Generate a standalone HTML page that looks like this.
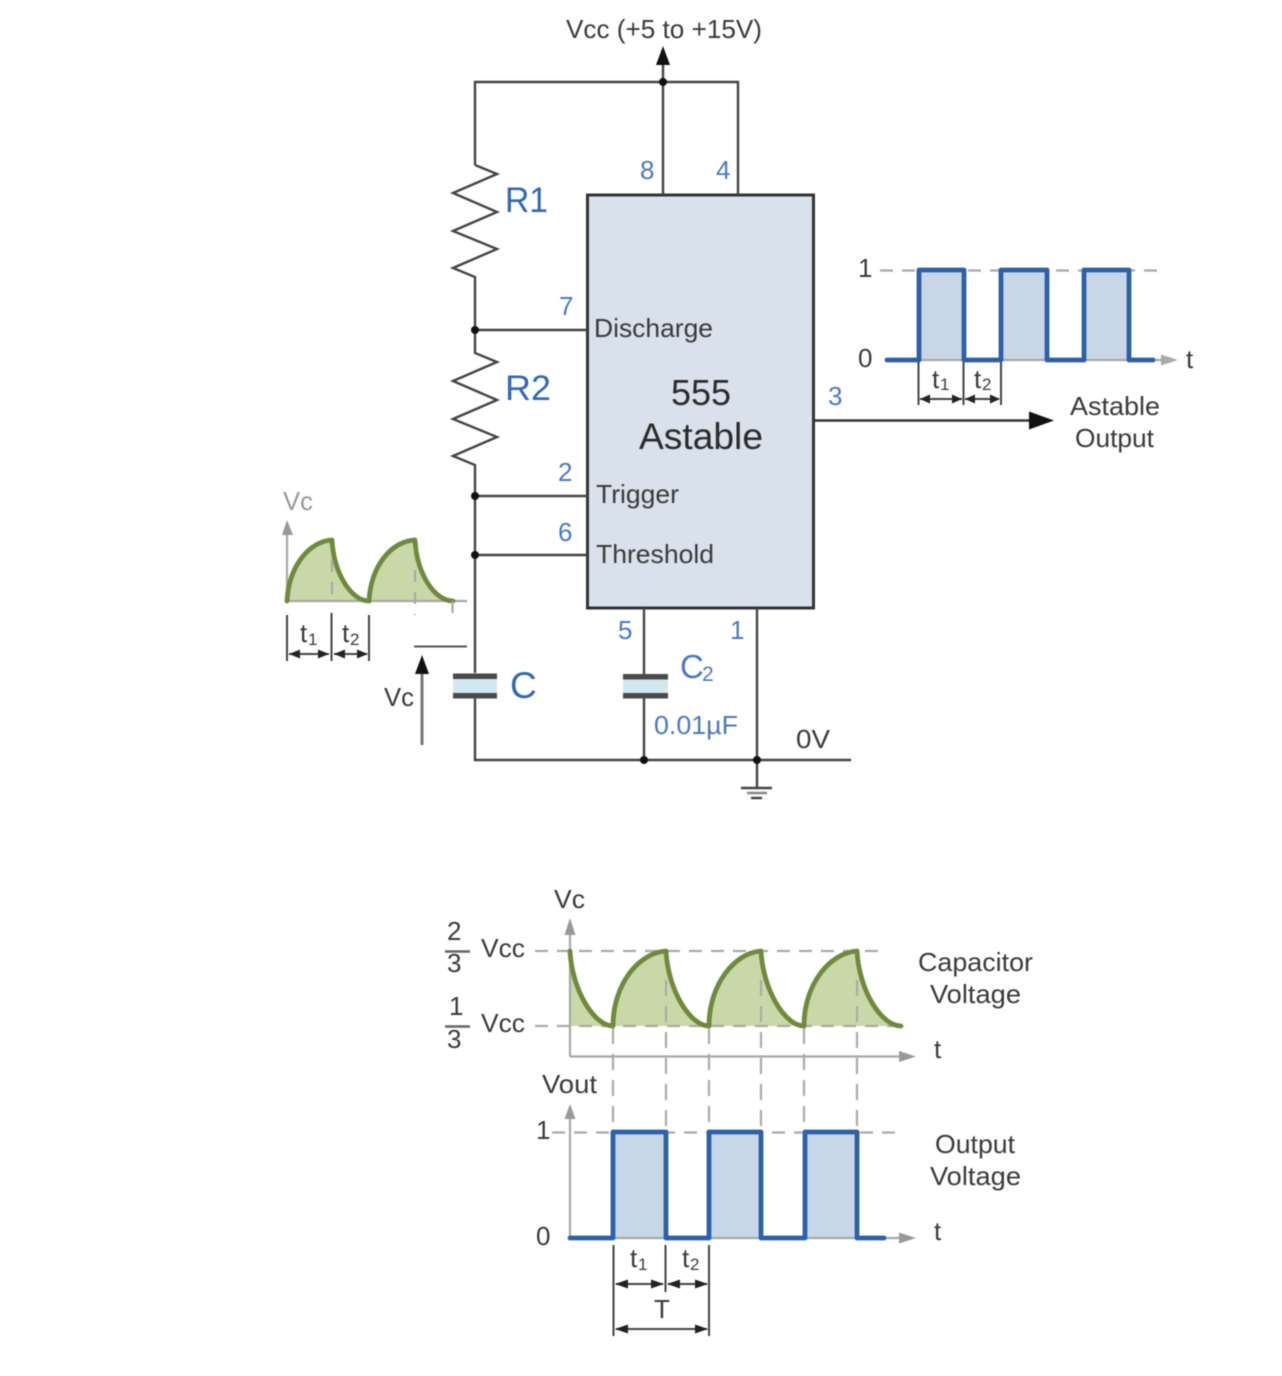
<!DOCTYPE html>
<html><head><meta charset="utf-8"><title>555 Astable</title>
<style>
html,body{margin:0;padding:0;background:#fff;width:1282px;height:1376px;overflow:hidden}
svg{display:block;filter:blur(.5px)}
text{font-family:"Liberation Sans",sans-serif;font-size:26px;fill:#3a3a3a}
.b{fill:#4a78c4}
.B{fill:#2f69b5}
.s{font-size:17px}
.w{fill:none;stroke:#444;stroke-width:2.4}
.g{fill:none;stroke:#a8a8a8;stroke-width:2.2}
.d{fill:none;stroke:#aaa;stroke-width:2.2;stroke-dasharray:13 9}
.dv{fill:none;stroke:#aaa;stroke-width:2.2;stroke-dasharray:16 10}
.wave{fill:none;stroke:#2e60a8;stroke-width:4.8;stroke-linejoin:round;stroke-linecap:round}
.cv{fill:none;stroke:#6f8a3c;stroke-width:4.8;stroke-linejoin:round;stroke-linecap:round}
.dim{fill:none;stroke:#444;stroke-width:2}
</style></head><body>
<svg width="1282" height="1376" viewBox="0 0 1282 1376" xmlns="http://www.w3.org/2000/svg">
<rect width="1282" height="1376" fill="#fff"/>

<!-- IC -->
<rect x="587.5" y="195" width="226" height="413" fill="#d9e1ec" stroke="#333" stroke-width="3"/>

<!-- wires -->
<path class="w" d="M475 165V82H738V195M663 195V60"/>
<path d="M663 46L670 65H656Z" fill="#111"/>
<path class="w" d="M475 165L497 174L453 193L497 212L453 231L497 249L453 268L475 277V353L497 362L453 381L497 400L453 419L497 437L453 456L475 465V673M475 698V760H851"/>
<path class="w" d="M475 330H587M475 496H587M475 555H587"/>
<path class="w" d="M644 608V674M644 698V760M757 608V788"/>
<path d="M813 420.500H1032" stroke="#333" stroke-width="2.400" fill="none"/>
<path d="M1054 420.500L1029 411.500V429.500Z" fill="#111"/>
<g fill="#111">
<circle cx="663" cy="82" r="4"/><circle cx="475" cy="330" r="4"/><circle cx="475" cy="496" r="4"/><circle cx="475" cy="555" r="4"/><circle cx="644" cy="760" r="4"/><circle cx="757" cy="760" r="4"/>
</g>

<!-- capacitors -->
<rect x="453" y="679" width="44" height="14" fill="#d2e8f0"/>
<rect x="453" y="673.500" width="44" height="5.500" fill="#4a4a4a"/>
<rect x="453" y="693" width="44" height="5.500" fill="#4a4a4a"/>
<rect x="623" y="679" width="45" height="14" fill="#d2e8f0"/>
<rect x="623" y="674" width="45" height="5.500" fill="#4a4a4a"/>
<rect x="623" y="693" width="45" height="5.500" fill="#4a4a4a"/>

<!-- ground -->
<path d="M741 788H772" stroke="#444" stroke-width="2.400"/>
<path d="M747 793H767" stroke="#888" stroke-width="2.400"/>
<path d="M751 798H762" stroke="#444" stroke-width="2.400"/>

<!-- main labels -->
<text x="566" y="38" textLength="196" lengthAdjust="spacingAndGlyphs">Vcc (+5 to +15V)</text>
<text class="B" x="505" y="212" style="font-size:35px" textLength="43" lengthAdjust="spacingAndGlyphs">R1</text>
<text class="B" x="505" y="400" style="font-size:35px" textLength="46" lengthAdjust="spacingAndGlyphs">R2</text>
<text class="B" x="510" y="698" style="font-size:37px">C</text>
<text class="b" x="640" y="179">8</text>
<text class="b" x="716" y="179">4</text>
<text class="b" x="559" y="315">7</text>
<text class="b" x="558" y="481">2</text>
<text class="b" x="558" y="541">6</text>
<text class="b" x="618" y="639">5</text>
<text class="b" x="730" y="639">1</text>
<text class="b" x="828" y="405">3</text>
<text x="594" y="337" textLength="119" lengthAdjust="spacingAndGlyphs">Discharge</text>
<text x="596" y="503" textLength="83" lengthAdjust="spacingAndGlyphs">Trigger</text>
<text x="596" y="563" textLength="118" lengthAdjust="spacingAndGlyphs">Threshold</text>
<text x="671" y="405" style="font-size:36px;fill:#2b2b2b" textLength="60" lengthAdjust="spacingAndGlyphs">555</text>
<text x="639" y="449" style="font-size:37px;fill:#2b2b2b" textLength="124" lengthAdjust="spacingAndGlyphs">Astable</text>
<text class="b" x="680" y="678" style="font-size:33px">C</text>
<text class="b s" x="702" y="681" style="font-size:21px">2</text>
<text class="b" x="654" y="734" textLength="84" lengthAdjust="spacingAndGlyphs">0.01µF</text>
<text x="796" y="748" textLength="34" lengthAdjust="spacingAndGlyphs">0V</text>

<!-- right waveform -->
<path class="d" d="M880 270.500H1160"/>
<path d="M919 360V270H964V360ZM1001 360V270H1047V360ZM1084 360V270H1129V360Z" fill="#c9d6e6"/>
<path class="g" d="M887 360H1165"/>
<path d="M1178 360L1161 354.500V365.500Z" fill="#aaa"/>
<path class="wave" d="M887 360H919V270H964V360H1001V270H1047V360H1084V270H1129V360H1153"/>
<path class="dim" d="M918.500 362V405M963.500 362V405M1001 362V405"/>
<path class="dim" d="M920 399H962M965 399H999"/>
<g fill="#222">
<path d="M920 399L930 394.500V403.500Z"/><path d="M962 399L952 394.500V403.500Z"/>
<path d="M965 399L975 394.500V403.500Z"/><path d="M1000 399L990 394.500V403.500Z"/>
</g>
<text x="858" y="277">1</text>
<text x="858" y="367">0</text>
<text x="1186" y="368">t</text>
<text x="932" y="388">t</text><text class="s" x="940" y="390">1</text>
<text x="974" y="388">t</text><text class="s" x="982" y="390">2</text>
<text x="1070" y="415" textLength="90" lengthAdjust="spacingAndGlyphs">Astable</text>
<text x="1075" y="447" textLength="79" lengthAdjust="spacingAndGlyphs">Output</text>

<!-- left Vc graph -->
<text x="283" y="510" style="fill:#999" textLength="30" lengthAdjust="spacingAndGlyphs">Vc</text>
<path d="M287 601C289 565 310 541 332 540C334 575 352 601 369 601C371 565 392 541 415 540C417 575 435 601 453 601Z" fill="#c9d8a8"/>
<path class="g" d="M287 601V530M287 601H467"/>
<path d="M287 520L282 535H293Z" fill="#999"/>
<path class="cv" d="M287 601C289 565 310 541 332 540C334 575 352 601 369 601C371 565 392 541 415 540C417 575 435 601 453 601"/>
<path class="g" stroke-dasharray="12 10" d="M332 560V602M415 570V615M452.500 601V615"/>
<path class="dim" d="M287 615V661M331.500 613V661M369 615V661"/>
<path class="dim" d="M289 654H329M334 654H367"/>
<g fill="#222">
<path d="M289 654L300 649.500V658.500Z"/><path d="M329 654L318 649.500V658.500Z"/>
<path d="M334 654L345 649.500V658.500Z"/><path d="M368 654L357 649.500V658.500Z"/>
</g>
<text x="300" y="642">t</text><text class="s" x="308" y="645">1</text>
<text x="342" y="642">t</text><text class="s" x="350" y="645">2</text>
<path d="M414 646.500H467" stroke="#555" stroke-width="2"/>
<path d="M422 745V668" stroke="#777" stroke-width="3" fill="none"/>
<path d="M422 655L429 674H415Z" fill="#111"/>
<text x="384" y="706" textLength="30" lengthAdjust="spacingAndGlyphs">Vc</text>

<!-- bottom capacitor chart -->
<path d="M570 951C572 990 594 1026 613 1026C613 985 638 953 666 951C668 990 690 1026 709 1026C709 985 734 953 761 951C763 990 785 1026 804 1026C804 985 829 953 857 951C859 990 881 1026 901 1026H570Z" fill="#c9d8a8"/>
<path class="g" d="M570 1056.500V930M570 1056.500H902"/>
<path d="M570 918L564.500 935H575.500Z" fill="#999"/>
<path d="M916 1056.500L899 1051V1062Z" fill="#999"/>
<path class="d" d="M535 951H884"/>
<path class="d" d="M535 1026H900"/>
<path class="dv" d="M613 1028V1132M666 980V1132M709 1028V1132M761 980V1132M804 1028V1132M857 980V1132"/>
<path class="cv" d="M570 951C572 990 594 1026 613 1026C613 985 638 953 666 951C668 990 690 1026 709 1026C709 985 734 953 761 951C763 990 785 1026 804 1026C804 985 829 953 857 951C859 990 881 1026 901 1026"/>
<text x="447" y="940">2</text>
<path d="M445 951.500H470" stroke="#666" stroke-width="2.400"/>
<text x="447" y="972">3</text>
<text x="449" y="1015">1</text>
<path d="M445 1026.500H470" stroke="#666" stroke-width="2.400"/>
<text x="447" y="1048">3</text>
<text x="481" y="957" textLength="44" lengthAdjust="spacingAndGlyphs">Vcc</text>
<text x="481" y="1032" textLength="44" lengthAdjust="spacingAndGlyphs">Vcc</text>
<text x="554" y="908" textLength="31" lengthAdjust="spacingAndGlyphs">Vc</text>
<text x="918" y="971" textLength="115" lengthAdjust="spacingAndGlyphs">Capacitor</text>
<text x="930" y="1003" textLength="91" lengthAdjust="spacingAndGlyphs">Voltage</text>
<text x="934" y="1058">t</text>
<text x="542" y="1093" textLength="55" lengthAdjust="spacingAndGlyphs">Vout</text>

<!-- bottom output chart -->
<path d="M613 1238V1132H666V1238ZM709 1238V1132H761V1238ZM805 1238V1132H857V1238Z" fill="#c9d6e6"/>
<path class="g" d="M570 1238V1115M570 1238H902"/>
<path d="M570 1104L564.500 1119H575.500Z" fill="#999"/>
<path d="M916 1238L899 1232.500V1243.500Z" fill="#999"/>
<path class="d" d="M552 1132.500H902"/>
<path class="wave" d="M570 1238H613V1132H666V1238H709V1132H761V1238H805V1132H857V1238H884"/>
<path class="dim" d="M613.500 1245V1336M665.500 1245V1292M709 1245V1336"/>
<path class="dim" d="M616 1284H663M668 1284H707M616 1329H707"/>
<g fill="#222">
<path d="M615 1284L628 1279.500V1288.500Z"/><path d="M664 1284L651 1279.500V1288.500Z"/>
<path d="M667 1284L680 1279.500V1288.500Z"/><path d="M708 1284L695 1279.500V1288.500Z"/>
<path d="M615 1329L628 1324.500V1333.500Z"/><path d="M708 1329L695 1324.500V1333.500Z"/>
</g>
<text x="536" y="1139">1</text>
<text x="536" y="1245">0</text>
<text x="935" y="1153" textLength="80" lengthAdjust="spacingAndGlyphs">Output</text>
<text x="930" y="1185" textLength="91" lengthAdjust="spacingAndGlyphs">Voltage</text>
<text x="934" y="1240">t</text>
<text x="630" y="1267">t</text><text class="s" x="638" y="1270">1</text>
<text x="682" y="1267">t</text><text class="s" x="690" y="1270">2</text>
<text x="654" y="1318">T</text>
</svg>
</body></html>
